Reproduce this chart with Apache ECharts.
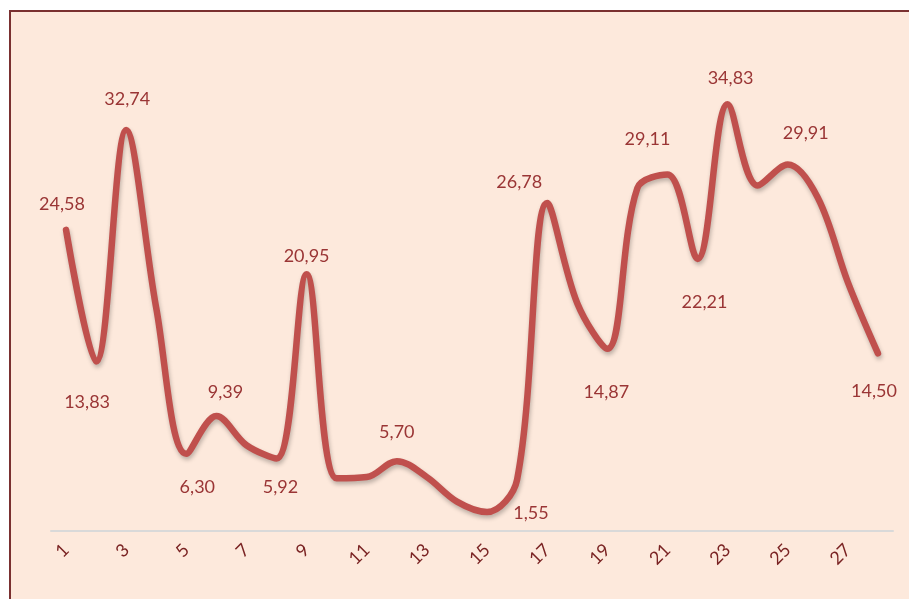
<!DOCTYPE html>
<html>
<head>
<meta charset="utf-8">
<script src="https://cdn.jsdelivr.net/npm/echarts@6/dist/echarts.min.js"></script>
<style>
  html, body { margin: 0; padding: 0; background: #ffffff; }
  #chart { width: 909px; height: 599px; }
</style>
</head>
<body>
<div id="chart"></div>
<script>
// categories 1..28
const days = ['1', '2', '3', '4', '5', '6', '7', '8', '9', '10', '11', '12', '13', '14',
  '15', '16', '17', '18', '19', '20', '21', '22', '23', '24', '25', '26', '27', '28'];
// values (labelled ones are exact)
const values = [24.58, 13.83, 32.74, 18.2, 6.30, 9.39, 7.0, 5.92, 20.95, 4.3, 4.4, 5.70, 4.4, 2.4,
  1.55, 4.2, 26.78, 18.6, 14.87, 28.0, 29.11, 22.21, 34.83, 28.2, 29.91, 27.2, 20.3, 14.50];
// which points carry a data label
const labelled = [1, 2, 3, 5, 6, 8, 9, 12, 15, 17, 19, 21, 22, 23, 25, 28];

// label offset from the point (centre of text), px
const labelOffset = {
  1: [-4, -26], 2: [-9, 41], 3: [1, -31], 5: [11, 33], 6: [9, -24], 8: [4, 29],
  9: [0, -18], 12: [0, -29], 15: [44, 1], 17: [-28, -21], 19: [-1, 43], 21: [-20, -35],
  22: [7, 43], 23: [3, -26], 25: [18, -31], 28: [-4, 38]
};

const fmt = v => v.toFixed(2).replace('.', ',');

const seriesData = values.map((v, i) => {
  const n = i + 1;
  if (labelled.indexOf(n) < 0) return { value: v, label: { show: false } };
  return {
    value: v,
    label: { show: true, position: 'inside', offset: labelOffset[n] }
  };
});

const chart = echarts.init(document.getElementById('chart'), null, { renderer: 'canvas' });
chart.setOption({
  backgroundColor: '#ffffff',
  animation: false,
  graphic: [{
    type: 'rect',
    z: -10,
    shape: { x: 10, y: 11, width: 920, height: 620 },
    style: { fill: '#fde9dc', stroke: '#7a3030', lineWidth: 2 }
  }],
  grid: { left: 51, right: 16, top: 41, bottom: 68 },
  xAxis: {
    type: 'category',
    data: days,
    boundaryGap: true,
    axisLine: { lineStyle: { color: '#d9d9d9', width: 2 } },
    axisTick: { show: false },
    axisLabel: {
      interval: 1,
      rotate: 45,
      margin: 16,
      color: '#7a2323',
      fontSize: 18,
      fontFamily: 'Lato'
    }
  },
  yAxis: { type: 'value', min: 0, max: 40, show: false },
  series: [{
    type: 'line',
    data: seriesData,
    smooth: 0.35,
    symbol: 'circle',
    symbolSize: 1,
    itemStyle: { color: 'rgba(0,0,0,0)' },
    lineStyle: {
      color: '#c0504d',
      width: 6.5,
      shadowColor: 'rgba(0,0,0,0.25)',
      shadowBlur: 4,
      shadowOffsetY: 3,
      shadowOffsetX: 1,
      cap: 'round'
    },
    label: {
      color: '#9a3535',
      fontSize: 18,
      fontFamily: 'Lato',
      formatter: p => fmt(p.value)
    }
  }]
});
</script>
</body>
</html>
